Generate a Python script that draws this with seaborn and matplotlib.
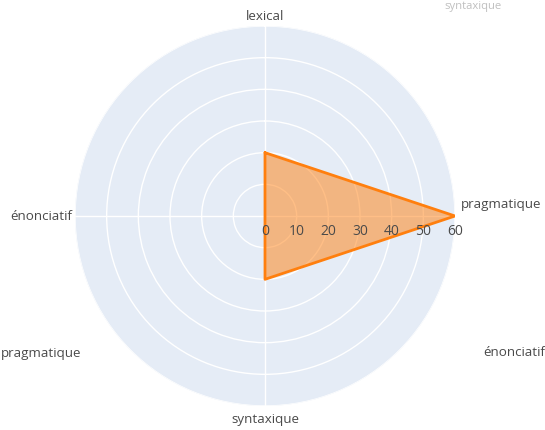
import numpy as np
import pandas as pd
import matplotlib
matplotlib.use("Agg")
import matplotlib.pyplot as plt
import seaborn as sns

# --- DATA ---
categories = ["lexical", "pragmatique", "syntaxique", "énonciatif"]
values = [20, 60, 20, 0]
radial_ticks = [0, 10, 20, 30, 40, 50, 60]
# leftover labels from a second (transitioning) layout in the screenshot
ghost_labels = ["pragmatique", "énonciatif", "syntaxique"]

TEXT = "#4a4a4a"
BG = "#e5ecf6"
ORANGE = "#ff7f0e"

sns.set_style("white")
plt.rcParams["font.family"] = ["Open Sans", "DejaVu Sans"]

fig = plt.figure(figsize=(5.45, 4.31), dpi=100)
ax = fig.add_axes([75 / 545, 24 / 431, 380 / 545, 380 / 431], projection="polar")
ax.set_theta_offset(np.pi / 2)
ax.set_theta_direction(-1)
ax.set_facecolor(BG)

angles = np.linspace(0, 2 * np.pi, len(categories), endpoint=False)
df = pd.DataFrame({"theta": list(angles) + [angles[0]],
                   "r": values + [values[0]]})

ax.fill(df["theta"], df["r"], color=ORANGE, alpha=0.5, lw=0, zorder=2)
sns.lineplot(data=df, x="theta", y="r", sort=False, estimator=None,
             color=ORANGE, lw=2, ax=ax, zorder=3)

ax.set_ylim(0, 60)
ax.set_yticks(radial_ticks[1:])
ax.set_yticklabels([])
ax.set_xticks(angles)
ax.set_xticklabels([])
ax.grid(True, color="white", lw=1)
ax.spines["polar"].set_visible(False)
ax.set_xlabel("")
ax.set_ylabel("")

# radial tick labels along the pragmatique axis, below the line
for t in radial_ticks:
    ax.annotate(str(t), xy=(np.pi / 2, t), xytext=(0, -5), textcoords="offset points",
                ha="center", va="top", fontsize=10, color=TEXT, zorder=5,
                annotation_clip=False)

# angular labels
fs = 9.6
fig.text(265 / 545, 1 - 16 / 431, categories[0], ha="center", va="center", fontsize=fs, color=TEXT)
fig.text(461 / 545, 1 - 205 / 431, categories[1], ha="left", va="center", fontsize=fs, color=TEXT)
fig.text(265 / 545, 1 - 420 / 431, categories[2], ha="center", va="center", fontsize=fs, color=TEXT)
fig.text(72 / 545, 1 - 217 / 431, categories[3], ha="right", va="center", fontsize=fs, color=TEXT)

# ghost labels
fig.text(1 / 545, 1 - 353 / 431, ghost_labels[0], ha="left", va="center", fontsize=fs, color=TEXT)
fig.text(483 / 545, 1 - 353 / 431, ghost_labels[1], ha="left", va="center", fontsize=fs, color=TEXT)
fig.text(473 / 545, 1 - 7 / 431, ghost_labels[2], ha="center", va="center", fontsize=fs - 1.5,
         color=TEXT, alpha=0.35)

fig.savefig("out.png", dpi=100, facecolor="white")
